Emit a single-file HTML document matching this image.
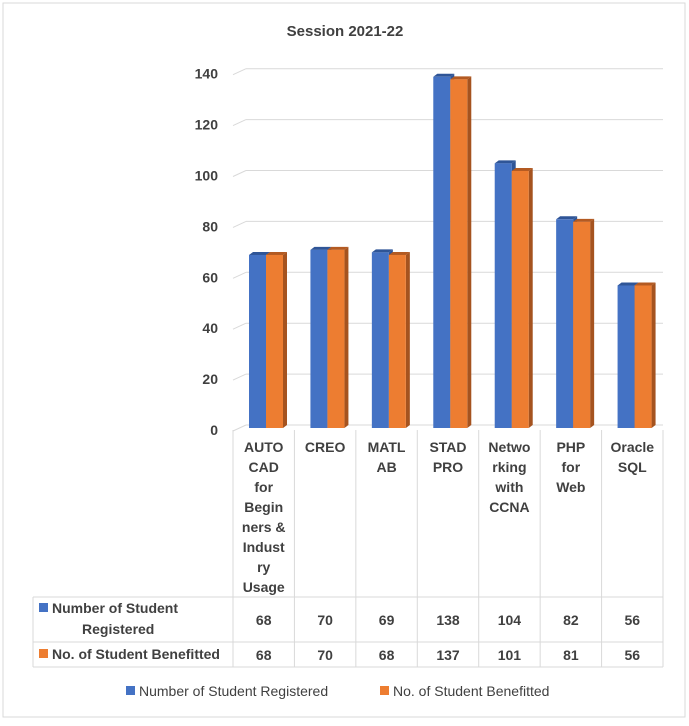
<!DOCTYPE html>
<html><head><style>
body{margin:0;background:#fff;font-family:"Liberation Sans",sans-serif;}
#wrap{position:relative;width:689px;height:721px;}
</style></head><body>
<div id="wrap">
<svg id="chart" width="689" height="721" xmlns="http://www.w3.org/2000/svg">
<rect x="3" y="3" width="682" height="714" fill="#fff" stroke="#d9d9d9"/>
<text x="345" y="36" text-anchor="middle" font-size="15" font-weight="bold" fill="#404040">Session 2021-22</text>
<g id="grid"></g><g id="bars"></g><g id="table"></g>
<g>
<rect x="126" y="686" width="9" height="9" fill="#4472c4"/>
<text x="139" y="696" font-size="14" fill="#404040">Number of Student Registered</text>
<rect x="380" y="686" width="9" height="9" fill="#ed7d31"/>
<text x="393" y="696" font-size="14" fill="#404040">No. of Student Benefitted</text>
</g>
</svg>
</div>
<script>
const categories=[["AUTO","CAD","for","Begin","ners &","Indust","ry","Usage"],["CREO"],["MATL","AB"],["STAD","PRO"],["Netwo","rking","with","CCNA"],["PHP","for","Web"],["Oracle","SQL"]];
const registered=[68,70,69,138,104,82,56];
const benefitted=[68,70,68,137,101,81,56];
const yTicks=[0,20,40,60,80,100,120,140];
const NS="http://www.w3.org/2000/svg";
function mk(t,a,p){const e=document.createElementNS(NS,t);for(const k in a)e.setAttribute(k,a[k]);p.appendChild(e);return e;}
const x0=233,x1=663,colW=(x1-x0)/categories.length;
function y(v){return 428-v*2.545;}
function yFloor(v){return 430-v*2.545;}
const grid=document.getElementById('grid');
yTicks.forEach(t=>{
 const yy=yFloor(t)-5;
 const l=mk('line',{x1:246,y1:yy,x2:x1,y2:yy,stroke:'#d9d9d9'},grid);
 
 
 const d=mk('line',{x1:233,y1:yy+6,x2:246,y2:yy,stroke:'#d9d9d9'},grid);
 
 
 const tx=mk('text',{x:218,y:yFloor(t)+5,'text-anchor':'end','font-size':'14','font-weight':'bold',fill:'#404040'},grid);
 tx.textContent=t;
 
 
});
const bars=document.getElementById('bars');
function bar(xl,v,front,side,top,name){
 const g=mk('g',{},bars);
 
 
 const w=17,yt=y(v),yb=y(0);
 mk('polygon',{points:`${xl},${yt} ${xl+4},${yt-3} ${xl+w+4},${yt-3} ${xl+w},${yt}`,fill:top},g);
 mk('polygon',{points:`${xl+w},${yt} ${xl+w+4},${yt-3} ${xl+w+4},${yb-3} ${xl+w},${yb}`,fill:side},g);
 mk('rect',{x:xl,y:yt,width:w,height:yb-yt,fill:front},g);
}
categories.forEach((c,i)=>{
 const cx=x0+colW*i+16;
 bar(cx,registered[i],'#4472c4','#2f5597','#2f5597','bar-registered-'+i);
 bar(cx+17,benefitted[i],'#ed7d31','#a5531f','#b35a22','bar-benefitted-'+i);
});
const tb=document.getElementById('table');
function ln(a,b,c,d){mk('line',{x1:a,y1:b,x2:c,y2:d,stroke:'#d9d9d9'},tb);}
for(let i=0;i<=categories.length;i++){const xx=x0+colW*i;ln(xx,430,xx,667);}
ln(33,597,x1,597);ln(33,642,x1,642);ln(33,667,x1,667);ln(33,597,33,667);
categories.forEach((c,i)=>{
 const cx=x0+colW*i+colW/2;
 c.forEach((s,j)=>{const t=mk('text',{x:cx,y:452+j*20,'text-anchor':'middle','font-size':'14','font-weight':'bold',fill:'#404040'},tb);t.textContent=s;
 
 });
 const a=mk('text',{x:cx,y:625,'text-anchor':'middle','font-size':'14','font-weight':'bold',fill:'#404040'},tb);a.textContent=registered[i];
 
 
 const b=mk('text',{x:cx,y:660,'text-anchor':'middle','font-size':'14','font-weight':'bold',fill:'#404040'},tb);b.textContent=benefitted[i];
 
 
});
mk('rect',{x:39,y:603,width:9,height:9,fill:'#4472c4'},tb);
let t1=mk('text',{x:52,y:613,'font-size':'14','font-weight':'bold',fill:'#404040'},tb);t1.textContent='Number of Student';


let t2=mk('text',{x:82,y:634,'font-size':'14','font-weight':'bold',fill:'#404040'},tb);t2.textContent='Registered';


mk('rect',{x:39,y:649,width:9,height:9,fill:'#ed7d31'},tb);
let t3=mk('text',{x:52,y:659,'font-size':'14','font-weight':'bold',fill:'#404040'},tb);t3.textContent='No. of Student Benefitted';


</script>
</body></html>
